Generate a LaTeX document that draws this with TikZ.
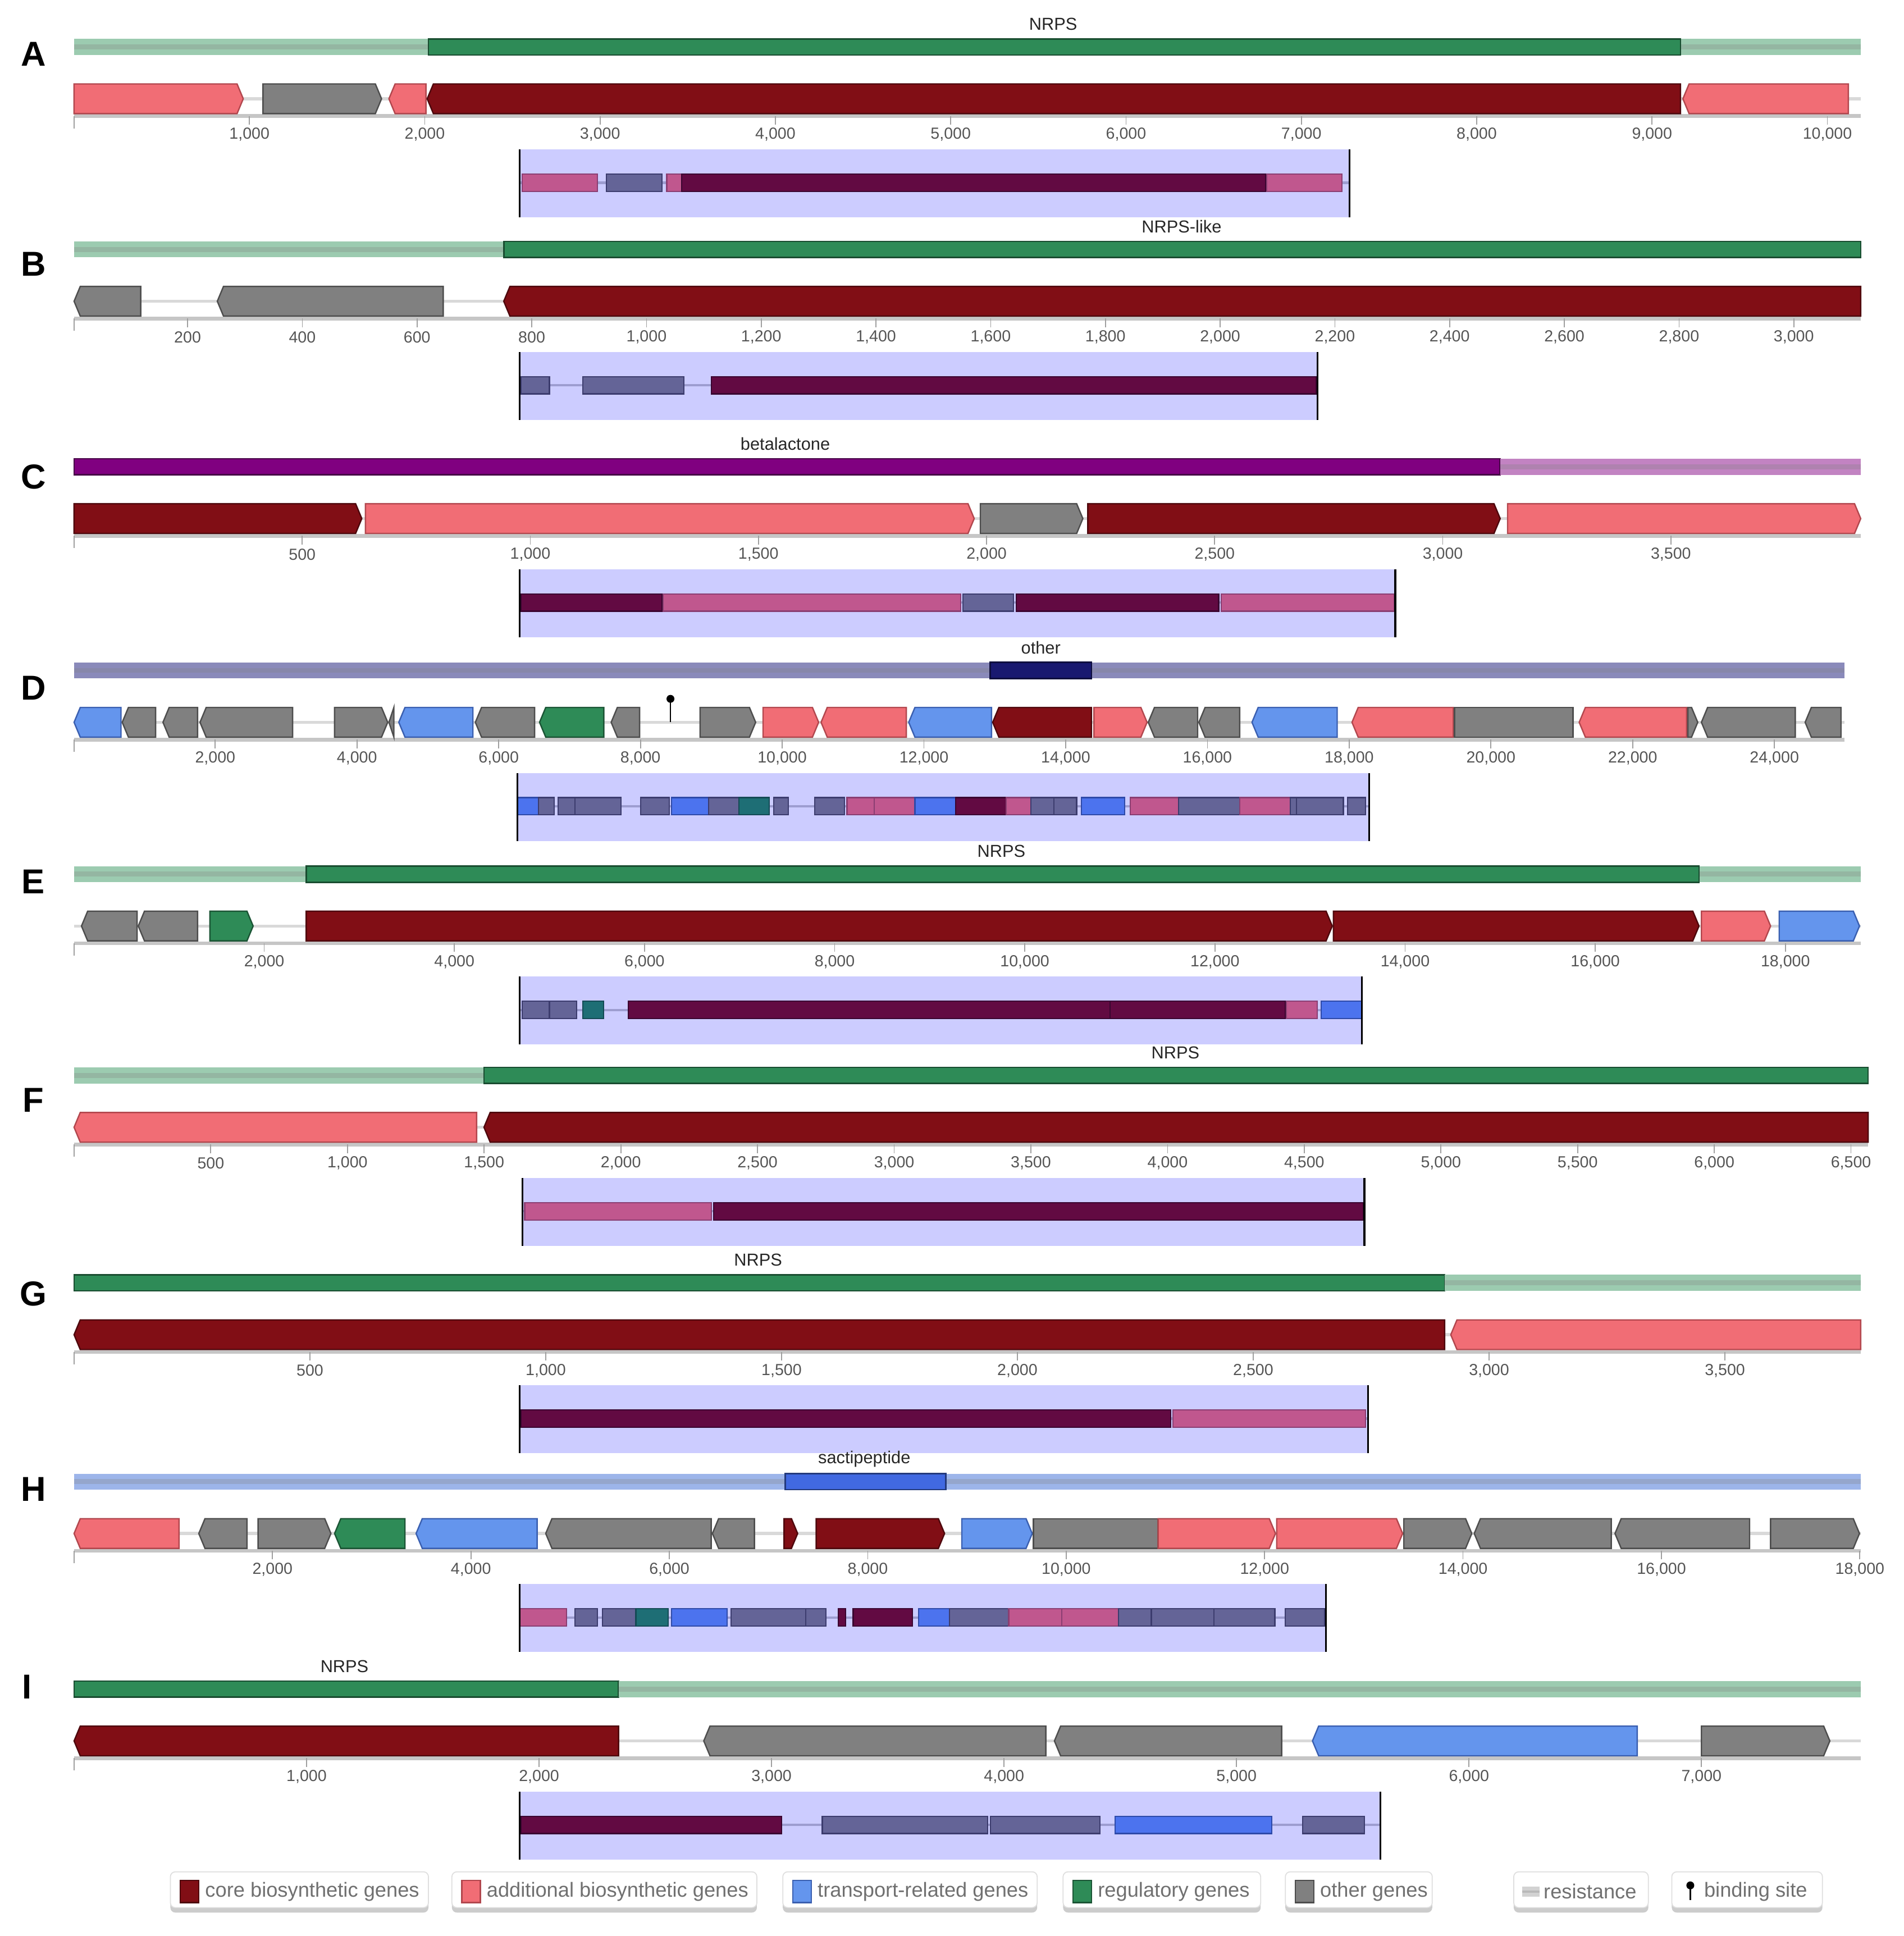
\documentclass[tikz,border=0pt]{standalone}
\usepackage{fontspec}
\setmainfont{Liberation Sans}
\definecolor{corec}{HTML}{810E15}
\definecolor{coreb}{HTML}{4E080D}
\definecolor{addc}{HTML}{F16D75}
\definecolor{addb}{HTML}{B2474E}
\definecolor{trc}{HTML}{6495ED}
\definecolor{trb}{HTML}{3A5FB0}
\definecolor{regc}{HTML}{2E8B57}
\definecolor{regb}{HTML}{1B5535}
\definecolor{othc}{HTML}{808080}
\definecolor{othb}{HTML}{4D4D4D}
\definecolor{dcorec}{HTML}{620A42}
\definecolor{dcoreb}{HTML}{3A0530}
\definecolor{daddc}{HTML}{C0578E}
\definecolor{daddb}{HTML}{8A3E72}
\definecolor{dtrc}{HTML}{4C73EE}
\definecolor{dtrb}{HTML}{2E4AA8}
\definecolor{dregc}{HTML}{1E6E75}
\definecolor{dregb}{HTML}{144A55}
\definecolor{dothc}{HTML}{646497}
\definecolor{dothb}{HTML}{3C3C6E}
\definecolor{lav}{HTML}{CCCCFF}
\definecolor{nrpsd}{HTML}{2E8B57}
\definecolor{nrpsl}{HTML}{9CCBB0}
\definecolor{betad}{HTML}{800080}
\definecolor{betal}{HTML}{C283C2}
\definecolor{othrl}{HTML}{8A8ABA}
\definecolor{othrd}{HTML}{191970}
\definecolor{sactl}{HTML}{9DB5EA}
\definecolor{sactd}{HTML}{4169E1}
\definecolor{tickgray}{HTML}{555555}
\definecolor{leggray}{HTML}{707070}
\tikzset{
  gcore/.style={fill=corec, draw=coreb, line width=1.1pt, line join=miter},
  gadd/.style={fill=addc, draw=addb, line width=1.1pt, line join=miter},
  gtr/.style={fill=trc, draw=trb, line width=1.1pt, line join=miter},
  greg/.style={fill=regc, draw=regb, line width=1.1pt, line join=miter},
  goth/.style={fill=othc, draw=othb, line width=1.1pt, line join=miter},
  dcore/.style={fill=dcorec, draw=dcoreb, line width=1pt},
  dadd/.style={fill=daddc, draw=daddb, line width=1pt},
  dtr/.style={fill=dtrc, draw=dtrb, line width=1pt},
  dreg/.style={fill=dregc, draw=dregb, line width=1pt},
  doth/.style={fill=dothc, draw=dothb, line width=1pt},
  tickline/.style={draw=gray!75, line width=0.8pt},
  ticklab/.style={font=\fontsize{13}{13}\selectfont, text=tickgray, inner sep=0pt},
  clab/.style={font=\fontsize{14}{14}\selectfont, text=black!85, inner sep=0pt},
  plab/.style={font=\fontsize{28}{28}\selectfont\bfseries, inner sep=0pt},
  axisline/.style={draw=gray!45, line width=3pt},
  midline/.style={draw=gray!30, line width=2.5pt},
  dline/.style={draw=dothc!45!lav, line width=2pt},
  legtext/.style={font=\fontsize{16.5}{16.5}\selectfont, text=leggray, inner sep=0pt, anchor=west},
}
\newcommand{\mkgene}[4]{%
  \pgfmathsetmacro\gtip{min(5,(#2)-(#1))}%
  \if#3R\path[#4] (#1,30) -- ({#2-\gtip},30) -- (#2,42) -- ({#2-\gtip},54) -- (#1,54) -- cycle;%
  \else\if#3L\path[#4] (#2,30) -- ({#1+\gtip},30) -- (#1,42) -- ({#1+\gtip},54) -- (#2,54) -- cycle;%
  \else\path[#4] (#1,30) rectangle (#2,54);\fi\fi}
\newcommand{\mkdom}[3]{\path[#3] (#1,103) rectangle (#2,117);}
\newcommand{\mklight}[3]{\fill[#3] (#1,-6.5) rectangle (#2,6.5); \fill[#3!72!gray] (#1,-2) rectangle (#2,2);}
\newcommand{\mkdark}[3]{\path[fill=#3, draw=#3!55!black, line width=1.2pt] (#1,-6.5) rectangle (#2,6.5);}
\newcommand{\mkbox}[2]{\fill[lav] (#1,83) rectangle (#2,138); \draw[dline] (#1,110) -- (#2,110);}
\newcommand{\mkedges}[2]{\draw[line width=1.5pt] (#1,83) -- (#1,138) (#2,83) -- (#2,138);}
\newcommand{\mkaxis}[1]{\draw[midline] (60,42) -- (#1,42); \draw[axisline] (60,56) -- (#1,56); \draw[tickline] (60,56) -- (60,66);}
\newcommand{\mkticksV}[4]{\foreach \v [count=\c] in {#3}{%
  \pgfmathsetmacro\xx{#1+#2*\v}%
  \pgfmathtruncatemacro\thd{\v/1000}%
  \pgfmathtruncatemacro\rmd{\v-1000*\thd}%
  \draw[tickline] (\xx,56) -- (\xx,63);
  \node[ticklab] (#4\c) at (\xx,71) {\ifnum\thd>0 \thd,\ifnum\rmd=0 000\else\rmd\fi\else\v\fi};}}
\newcommand{\mkticksK}[4]{\foreach \k [count=\c] in {#3}{\pgfmathsetmacro\xx{#1+#2*\k}\draw[tickline] (\xx,56) -- (\xx,63); \node[ticklab] (#4\c) at (\xx,71) {\k,000};}}
\begin{document}
\begin{tikzpicture}[x=1pt,y=-1pt]
\useasboundingbox (0,0) rectangle (1542,1568);
\fill[white] (0,0) rectangle (1542,1568);
% ---------------- A
\begin{scope}[shift={(0,38)}]
\node[plab] (LA) at (27,6) {A};
\mklight{60}{347}{nrpsl} \mklight{1361}{1507}{nrpsl} \mkdark{347}{1361}{nrpsd}
\node[clab] (cA) at (853,-18.5) {NRPS};
\mkaxis{1507}
\mkticksK{60}{142}{1,2,...,10}{tA}
\mkgene{60}{197}{R}{gadd}
\mkgene{213}{309}{R}{goth}
\mkgene{315}{345}{L}{gadd}
\mkgene{346}{1361}{L}{gcore}
\mkgene{1363}{1497}{L}{gadd}
\mkbox{421}{1093}
\mkdom{423}{484}{dadd} \mkdom{491}{536}{doth} \mkdom{540}{552}{dadd}
\mkdom{552}{1025}{dcore} \mkdom{1026}{1087}{dadd}
\mkedges{421}{1093}
\end{scope}
% ---------------- B
\begin{scope}[shift={(0,202)}]
\node[plab] (LB) at (27,12) {B};
\mklight{60}{408}{nrpsl} \mkdark{408}{1507}{nrpsd}
\node[clab] (cB) at (957,-18.5) {NRPS-like};
\mkaxis{1507}
\mkticksV{59}{0.4646}{200,400,...,3000}{tB}
\mkgene{60}{114}{L}{goth}
\mkgene{176}{359}{L}{goth}
\mkgene{408}{1507}{L}{gcore}
\mkbox{421}{1067}
\mkdom{422}{445}{doth} \mkdom{472}{554}{doth} \mkdom{576}{1066}{dcore}
\mkedges{421}{1067}
\end{scope}
% ---------------- C
\begin{scope}[shift={(0,378)}]
\node[plab] (LC) at (27,8) {C};
\mkdark{60}{1215}{betad} \mklight{1215}{1507}{betal}
\node[clab] (cC) at (636,-18.5) {betalactone};
\mkaxis{1507}
\mkticksV{60}{0.3695}{500,1000,...,3500}{tC}
\mkgene{60}{293}{R}{gcore}
\mkgene{296}{789}{R}{gadd}
\mkgene{794}{877}{R}{goth}
\mkgene{881}{1215}{R}{gcore}
\mkgene{1221}{1507}{R}{gadd}
\mkbox{421}{1130}
\mkdom{422}{536}{dcore} \mkdom{537}{778}{dadd} \mkdom{780}{821}{doth}
\mkdom{823}{987}{dcore} \mkdom{989}{1129}{dadd}
\mkedges{421}{1130}
\end{scope}
% ---------------- D
\begin{scope}[shift={(0,543)}]
\node[plab] (LD) at (27,14) {D};
\mklight{60}{1494}{othrl} \mkdark{802}{884}{othrd}
\node[clab] (cD) at (843,-18.5) {other};
\mkaxis{1494}
\mkticksK{59.5}{57.4}{2,4,...,24}{tD}
\mkgene{60}{98}{L}{gtr}
\mkgene{99}{126}{L}{goth}
\mkgene{132}{160}{L}{goth}
\mkgene{162}{237}{L}{goth}
\mkgene{271}{314}{R}{goth}
\mkgene{315}{319}{L}{goth}
\mkgene{323}{383}{L}{gtr}
\mkgene{385}{433}{L}{goth}
\mkgene{437}{489}{L}{greg}
\mkgene{495}{518}{L}{goth}
\mkgene{567}{612}{R}{goth}
\mkgene{618}{663}{R}{gadd}
\mkgene{665}{734}{L}{gadd}
\mkgene{736}{803}{L}{gtr}
\mkgene{804}{884}{L}{gcore}
\mkgene{886}{929}{R}{gadd}
\mkgene{930}{970}{L}{goth}
\mkgene{971}{1004}{L}{goth}
\mkgene{1014}{1083}{L}{gtr}
\mkgene{1095}{1177}{L}{gadd}
\mkgene{1178}{1274}{N}{goth}
\mkgene{1279}{1366}{L}{gadd}
\mkgene{1367}{1375}{R}{goth}
\mkgene{1378}{1454}{L}{goth}
\mkgene{1462}{1491}{L}{goth}
\draw[line width=1.1pt] (543,23) -- (543,42);
\fill (543,23) circle (3.2);
\mkbox{419}{1109}
\mkdom{419}{436}{dtr} \mkdom{436}{449}{doth} \mkdom{452}{465.5}{doth} \mkdom{465.5}{503}{doth}
\mkdom{519}{542}{doth} \mkdom{544}{574}{dtr} \mkdom{574}{598.5}{doth} \mkdom{598.5}{623}{dreg}
\mkdom{626.5}{638.5}{doth} \mkdom{660}{684}{doth} \mkdom{686}{708}{dadd} \mkdom{708}{741}{dadd}
\mkdom{741}{774}{dtr} \mkdom{774}{815}{dcore} \mkdom{815}{835}{dadd} \mkdom{835}{853.5}{doth}
\mkdom{853.5}{872}{doth} \mkdom{876}{911}{dtr} \mkdom{915.5}{954.5}{dadd} \mkdom{954.5}{1004}{doth}
\mkdom{1004}{1045}{dadd} \mkdom{1045}{1050}{doth} \mkdom{1050}{1088}{doth} \mkdom{1091.5}{1106}{doth}
\mkedges{419}{1109}
\end{scope}
% ---------------- E
\begin{scope}[shift={(0,708)}]
\node[plab] (LE) at (27,6) {E};
\mklight{60}{248}{nrpsl} \mklight{1376}{1507}{nrpsl} \mkdark{248}{1376}{nrpsd}
\node[clab] (cE) at (811,-18.5) {NRPS};
\mkaxis{1507}
\mkticksK{60}{77}{2,4,...,18}{tE}
\mkgene{66}{111}{L}{goth}
\mkgene{112}{160}{L}{goth}
\mkgene{170}{205}{R}{greg}
\mkgene{248}{1079}{R}{gcore}
\mkgene{1080}{1376}{R}{gcore}
\mkgene{1378}{1434}{R}{gadd}
\mkgene{1441}{1506}{R}{gtr}
\mkbox{421}{1103}
\mkdom{423}{445}{doth} \mkdom{445}{467}{doth} \mkdom{472}{489}{dreg}
\mkdom{509}{899}{dcore} \mkdom{899}{1041}{dcore} \mkdom{1042}{1067}{dadd} \mkdom{1070}{1103}{dtr}
\mkedges{421}{1103}
\end{scope}
% ---------------- F
\begin{scope}[shift={(0,871)}]
\node[plab] (LF) at (27,20) {F};
\mklight{60}{392}{nrpsl} \mkdark{392}{1513}{nrpsd}
\node[clab] (cF) at (952,-18.5) {NRPS};
\mkaxis{1513}
\mkticksV{60}{0.2214}{500,1000,...,6500}{tF}
\mkgene{60}{386}{L}{gadd}
\mkgene{392}{1513}{L}{gcore}
\mkbox{423}{1105}
\mkdom{425}{576}{dadd} \mkdom{578}{1104}{dcore}
\mkedges{423}{1105}
\end{scope}
% ---------------- G
\begin{scope}[shift={(0,1039)}]
\node[plab] (LG) at (27,9) {G};
\mkdark{60}{1170}{nrpsd} \mklight{1170}{1507}{nrpsl}
\node[clab] (cG) at (614,-18.5) {NRPS};
\mkaxis{1507}
\mkticksV{60}{0.382}{500,1000,...,3500}{tG}
\mkgene{60}{1170}{L}{gcore}
\mkgene{1175}{1507}{L}{gadd}
\mkbox{421}{1108}
\mkdom{422}{948}{dcore} \mkdom{950}{1106}{dadd}
\mkedges{421}{1108}
\end{scope}
% ---------------- H
\begin{scope}[shift={(0,1200)}]
\node[plab] (LH) at (27,6) {H};
\mklight{60}{1507}{sactl} \mkdark{636}{766}{sactd}
\node[clab] (cH) at (700,-18.5) {sactipeptide};
\mkaxis{1507}
\mkticksK{60}{80.35}{2,4,...,18}{tH}
\mkgene{60}{145}{L}{gadd}
\mkgene{161}{200}{L}{goth}
\mkgene{209}{268}{R}{goth}
\mkgene{271}{328}{L}{greg}
\mkgene{337}{435}{L}{gtr}
\mkgene{442}{576}{L}{goth}
\mkgene{577}{611}{L}{goth}
\mkgene{635}{646}{R}{gcore}
\mkgene{661}{765}{R}{gcore}
\mkgene{779}{836}{R}{gtr}
\mkgene{837}{938}{N}{goth}
\mkgene{938}{1033}{R}{gadd}
\mkgene{1034}{1136}{R}{gadd}
\mkgene{1137}{1192}{R}{goth}
\mkgene{1194}{1305}{L}{goth}
\mkgene{1308}{1417}{L}{goth}
\mkgene{1434}{1506}{R}{goth}
\mkbox{421}{1074}
\mkdom{421}{459}{dadd} \mkdom{465.5}{484}{doth} \mkdom{488}{515}{doth} \mkdom{515}{541}{dreg}
\mkdom{544}{589}{dtr} \mkdom{592}{652.5}{doth} \mkdom{652.5}{669}{doth} \mkdom{679}{685}{dcore}
\mkdom{691}{739}{dcore} \mkdom{744}{769}{dtr} \mkdom{769}{817}{doth} \mkdom{817}{860}{dadd}
\mkdom{860}{906}{dadd} \mkdom{906}{932.5}{doth} \mkdom{932.5}{983}{doth} \mkdom{983}{1032.5}{doth}
\mkdom{1041}{1073}{doth}
\mkedges{421}{1074}
\end{scope}
% ---------------- I
\begin{scope}[shift={(0,1368)}]
\node[plab] (LI) at (22,-2) {I};
\mkdark{60}{501}{nrpsd} \mklight{501}{1507}{nrpsl}
\node[clab] (cI) at (279,-18.5) {NRPS};
\mkaxis{1507}
\mkticksV{60}{0.1883}{1000,2000,...,7000}{tI}
\mkgene{60}{501}{L}{gcore}
\mkgene{570}{847}{L}{goth}
\mkgene{854}{1038}{L}{goth}
\mkgene{1063}{1326}{L}{gtr}
\mkgene{1378}{1482}{R}{goth}
\mkbox{421}{1118}
\mkdom{422}{633}{dcore} \mkdom{666}{800}{doth} \mkdom{802}{891}{doth}
\mkdom{903}{1030}{dtr} \mkdom{1055}{1105}{doth}
\mkedges{421}{1118}
\end{scope}
% ---------------- legend
\foreach \a/\b in {138/347,366/613,634/840,861/1021,1041/1160,1226/1335,1354/1476}{
  \fill[gray!40, rounded corners=4pt] (\a,1520) rectangle (\b,1549);
  \path[fill=white, draw=gray!25, line width=0.8pt, rounded corners=4pt] (\a,1516) rectangle (\b,1545);
}
\path[gcore] (146,1523) rectangle (161,1541);
\node[legtext] (l1) at (166,1532) {core biosynthetic genes};
\path[gadd] (374,1523) rectangle (389,1541);
\node[legtext] (l2) at (394,1532) {additional biosynthetic genes};
\path[gtr] (642,1523) rectangle (657,1541);
\node[legtext] (l3) at (662,1532) {transport-related genes};
\path[greg] (869,1523) rectangle (884,1541);
\node[legtext] (l4) at (889,1532) {regulatory genes};
\path[goth] (1049,1523) rectangle (1064,1541);
\node[legtext] (l5) at (1069,1532) {other genes};
\fill[gray!35] (1233,1528) rectangle (1247,1536);
\fill[gray!55] (1233,1531) rectangle (1247,1533);
\node[legtext] (l6) at (1250,1532) {resistance};
\draw[line width=1.1pt] (1369,1527) -- (1369,1539);
\fill (1369,1527) circle (3.2);
\node[legtext] (l7) at (1380,1532) {binding site};
\end{tikzpicture}
\end{document}
